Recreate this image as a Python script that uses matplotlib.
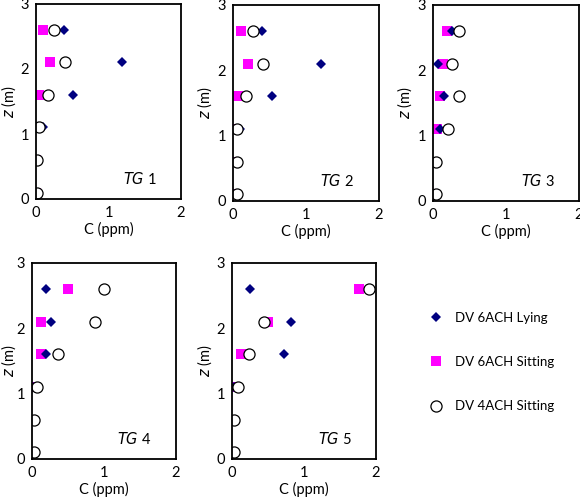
import matplotlib
matplotlib.use("Agg")
import matplotlib.pyplot as plt
from matplotlib.lines import Line2D

plt.rcParams['font.family'] = ['Lato', 'DejaVu Sans']

# heights of the sampling points (m)
z = [0.1, 0.6, 1.1, 1.6, 2.1, 2.6]

# concentrations (ppm), one list per panel, bottom to top
lying = [
    [0.0, 0.0, 0.09, 0.51, 1.19, 0.38],
    [0.0, 0.0, 0.09, 0.54, 1.20, 0.40],
    [0.0, 0.0, 0.10, 0.15, 0.07, 0.26],
    [0.0, 0.0, 0.03, 0.20, 0.26, 0.20],
    [0.0, 0.0, 0.03, 0.72, 0.82, 0.25],
]
sitting6 = [
    [0.0, 0.0, 0.0, 0.04, 0.19, 0.09],
    [0.0, 0.0, 0.0, 0.07, 0.21, 0.11],
    [0.0, 0.0, 0.05, 0.10, 0.14, 0.19],
    [0.0, 0.0, 0.0, 0.12, 0.13, 0.50],
    [0.0, 0.0, 0.0, 0.13, 0.50, 1.77],
]
sitting4 = [
    [0.02, 0.02, 0.04, 0.17, 0.40, 0.25],
    [0.05, 0.05, 0.05, 0.18, 0.41, 0.27],
    [0.04, 0.04, 0.20, 0.35, 0.26, 0.35],
    [0.03, 0.03, 0.07, 0.36, 0.88, 1.00],
    [0.03, 0.03, 0.08, 0.24, 0.45, 1.90],
]
panel_names = ["1", "2", "3", "4", "5"]

# axes boxes in pixels: left, top, right, bottom, and where the y label sits
W, H = 580, 497
boxes = [
    (36, 4, 181, 199, 18),
    (233, 5, 379, 201, 214),
    (433, 5, 579, 201, 414),
    (32, 263, 176, 459, 18),
    (232, 263, 376, 459, 214),
]

fig = plt.figure(figsize=(W / 100, H / 100), dpi=100)

for i, (l, t, r, b, yl) in enumerate(boxes):
    ax = fig.add_axes([l / W, (H - b) / H, (r - l) / W, (b - t) / H])
    ax.plot(sitting6[i], z, 's', color='#ff00ff', ms=6.5, mew=0)
    ax.plot(lying[i], z, 'D', color='#000080', ms=5, mew=0)
    ax.plot(sitting4[i], z, 'o', mfc='white', mec='black', ms=8, mew=0.9)
    ax.set_xlim(0, 2)
    ax.set_ylim(0, 3)
    ax.set_xticks([0, 1, 2])
    ax.set_yticks([0, 1, 2, 3])
    ax.tick_params(length=0, labelsize=10.5, pad=5)
    for s in ax.spines.values():
        s.set_linewidth(1.3)
    ax.set_xlabel("C (ppm)", fontsize=10.5)
    ax.set_ylabel("$z$ (m)", fontsize=10.5)
    ax.xaxis.set_label_coords(0.5, -23 / (b - t))
    ax.yaxis.set_label_coords((yl - l) / (r - l), 0.5)
    ax.text(0.83, 0.1, "$TG$ " + panel_names[i], transform=ax.transAxes,
            ha='right', va='center', fontsize=10.5)

handles = [
    Line2D([], [], ls='none', marker='D', color='#000080', ms=5, mew=0),
    Line2D([], [], ls='none', marker='s', color='#ff00ff', ms=6.5, mew=0),
    Line2D([], [], ls='none', marker='o', mfc='white', mec='black', ms=8, mew=0.9),
]
labels = ["DV 6ACH Lying", "DV 6ACH Sitting", "DV 4ACH Sitting"]
fig.legend(handles, labels, loc='upper left', bbox_to_anchor=(423 / W, 1 - 305 / H),
           frameon=False, fontsize=9.5, labelspacing=2.45, handlelength=1.0,
           handletextpad=0.9, borderpad=0)

fig.savefig("out.png", dpi=100)
